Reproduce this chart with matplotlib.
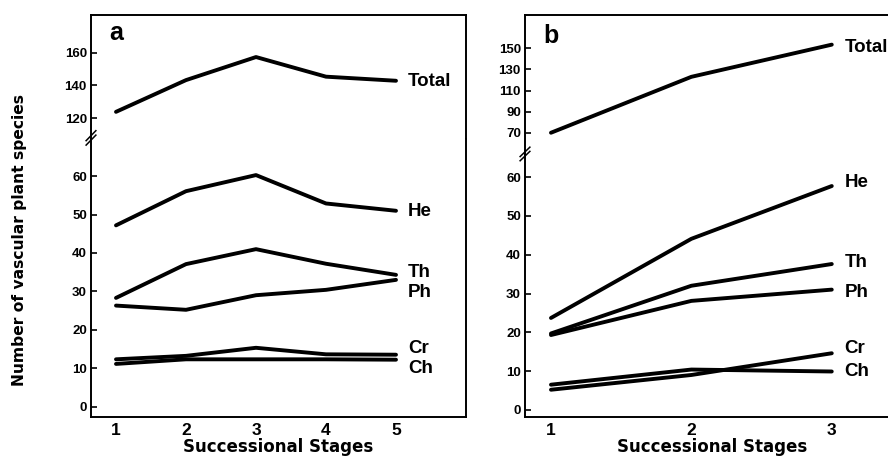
import matplotlib
matplotlib.use('Agg')
import matplotlib.pyplot as plt

# ---- data ----
stages_a = [1, 2, 3, 4, 5]
total_a = [123.8, 143.2, 157.3, 145.3, 142.8]
he_a = [47.2, 56.1, 60.3, 52.9, 51.0]
th_a = [28.3, 37.1, 41.0, 37.2, 34.3]
ph_a = [26.3, 25.2, 29.0, 30.4, 33.0]
cr_a = [12.3, 13.2, 15.3, 13.6, 13.5]
ch_a = [11.1, 12.3, 12.3, 12.3, 12.2]

stages_b = [1, 2, 3]
total_b = [70.0, 123.0, 153.5]
he_b = [23.7, 44.1, 57.7]
th_b = [19.7, 32.0, 37.6]
ph_b = [19.3, 28.1, 31.0]
cr_b = [5.2, 9.0, 14.6]
ch_b = [6.5, 10.4, 9.9]

names = ['He', 'Th', 'Ph', 'Cr', 'Ch']
label_y_a = {'Total': 142.5, 'He': 50.7, 'Th': 34.8, 'Ph': 29.8, 'Cr': 15.1, 'Ch': 10.0}
label_y_b = {'Total': 150.5, 'He': 58.5, 'Th': 38.0, 'Ph': 30.3, 'Cr': 15.7, 'Ch': 10.0}

tick_font = {'family': 'Liberation Sans', 'weight': 'bold'}
axis_font = {'family': 'DejaVu Sans', 'weight': 'bold'}

W, H = 888, 459
fig = plt.figure(figsize=(W / 100, H / 100), dpi=100)


def px_axes(left, top, right, bottom):
    return fig.add_axes([left / W, 1 - bottom / H, (right - left) / W, (bottom - top) / H])


def style(ax, upper):
    for s in ax.spines.values():
        s.set_linewidth(1.4)
    if upper:
        ax.spines['bottom'].set_visible(False)
    else:
        ax.spines['top'].set_visible(False)
    ax.tick_params(axis='y', direction='in', length=4, width=1.2, pad=3, labelsize=9.5)
    ax.tick_params(axis='x', length=0, pad=5, labelsize=12.5)
    for lab in ax.get_yticklabels() + ax.get_xticklabels():
        lab.set_fontfamily('Liberation Sans')
        lab.set_fontweight('bold')


def panel(left, right, xlim, brk, up_lim, lo_lim, up_ticks, lo_ticks,
          stages, total, series, label_y, label_x, letter):
    ax_up = px_axes(left, 15, right, brk)
    ax_lo = px_axes(left, brk, right, 416.5)
    ax_up.plot(stages, total, color='black', lw=2.8, solid_capstyle='round')
    for vals in series:
        ax_lo.plot(stages, vals, color='black', lw=2.8, solid_capstyle='round')
    for ax in (ax_up, ax_lo):
        ax.set_xlim(*xlim)
    ax_up.set_ylim(*up_lim)
    ax_lo.set_ylim(*lo_lim)
    ax_up.set_yticks(up_ticks)
    ax_lo.set_yticks(lo_ticks)
    ax_up.set_xticks([])
    ax_lo.set_xticks(stages)
    style(ax_up, True)
    style(ax_lo, False)
    ax_up.text(label_x, label_y['Total'], 'Total', fontsize=13.5, va='center', **tick_font)
    for n in names:
        ax_lo.text(label_x, label_y[n], n, fontsize=13.5, va='center', **tick_font)
    ax_up.text(0.05, 0.80, letter, transform=ax_up.transAxes, fontsize=18, **tick_font)
    ax_lo.set_xlabel('Successional Stages', fontsize=12, labelpad=0, **axis_font)
    # break mark on the left spine
    t = ax_lo.transAxes
    for dy in (-0.004, 0.012):
        ax_lo.plot([-0.013, 0.013], [1 + dy - 0.018, 1 + dy + 0.018], color='black', lw=1.1,
                   transform=t, clip_on=False)
    return ax_up, ax_lo


panel(91, 466, (0.643, 6.0), 139,
      (107.2, 183), (-2.6, 69.7), [120, 140, 160], list(range(0, 61, 10)),
      stages_a, total_a, [he_a, th_a, ph_a, cr_a, ch_a], label_y_a, 5.17, 'a')

# panel b is cut off on the right in the original figure
panel(525, 900, (0.815, 0.815 + 375 / 140.4), 155,
      (48.9, 181.6), (-1.7, 65.7), [70, 90, 110, 130, 150], list(range(0, 61, 10)),
      stages_b, total_b, [he_b, th_b, ph_b, cr_b, ch_b], label_y_b, 3.09, 'b')

fig.text(20 / W, 1 - 240 / H, 'Number of vascular plant species', rotation=90,
         ha='center', va='center', fontsize=11.2, **axis_font)

fig.savefig('out.png', dpi=100)
